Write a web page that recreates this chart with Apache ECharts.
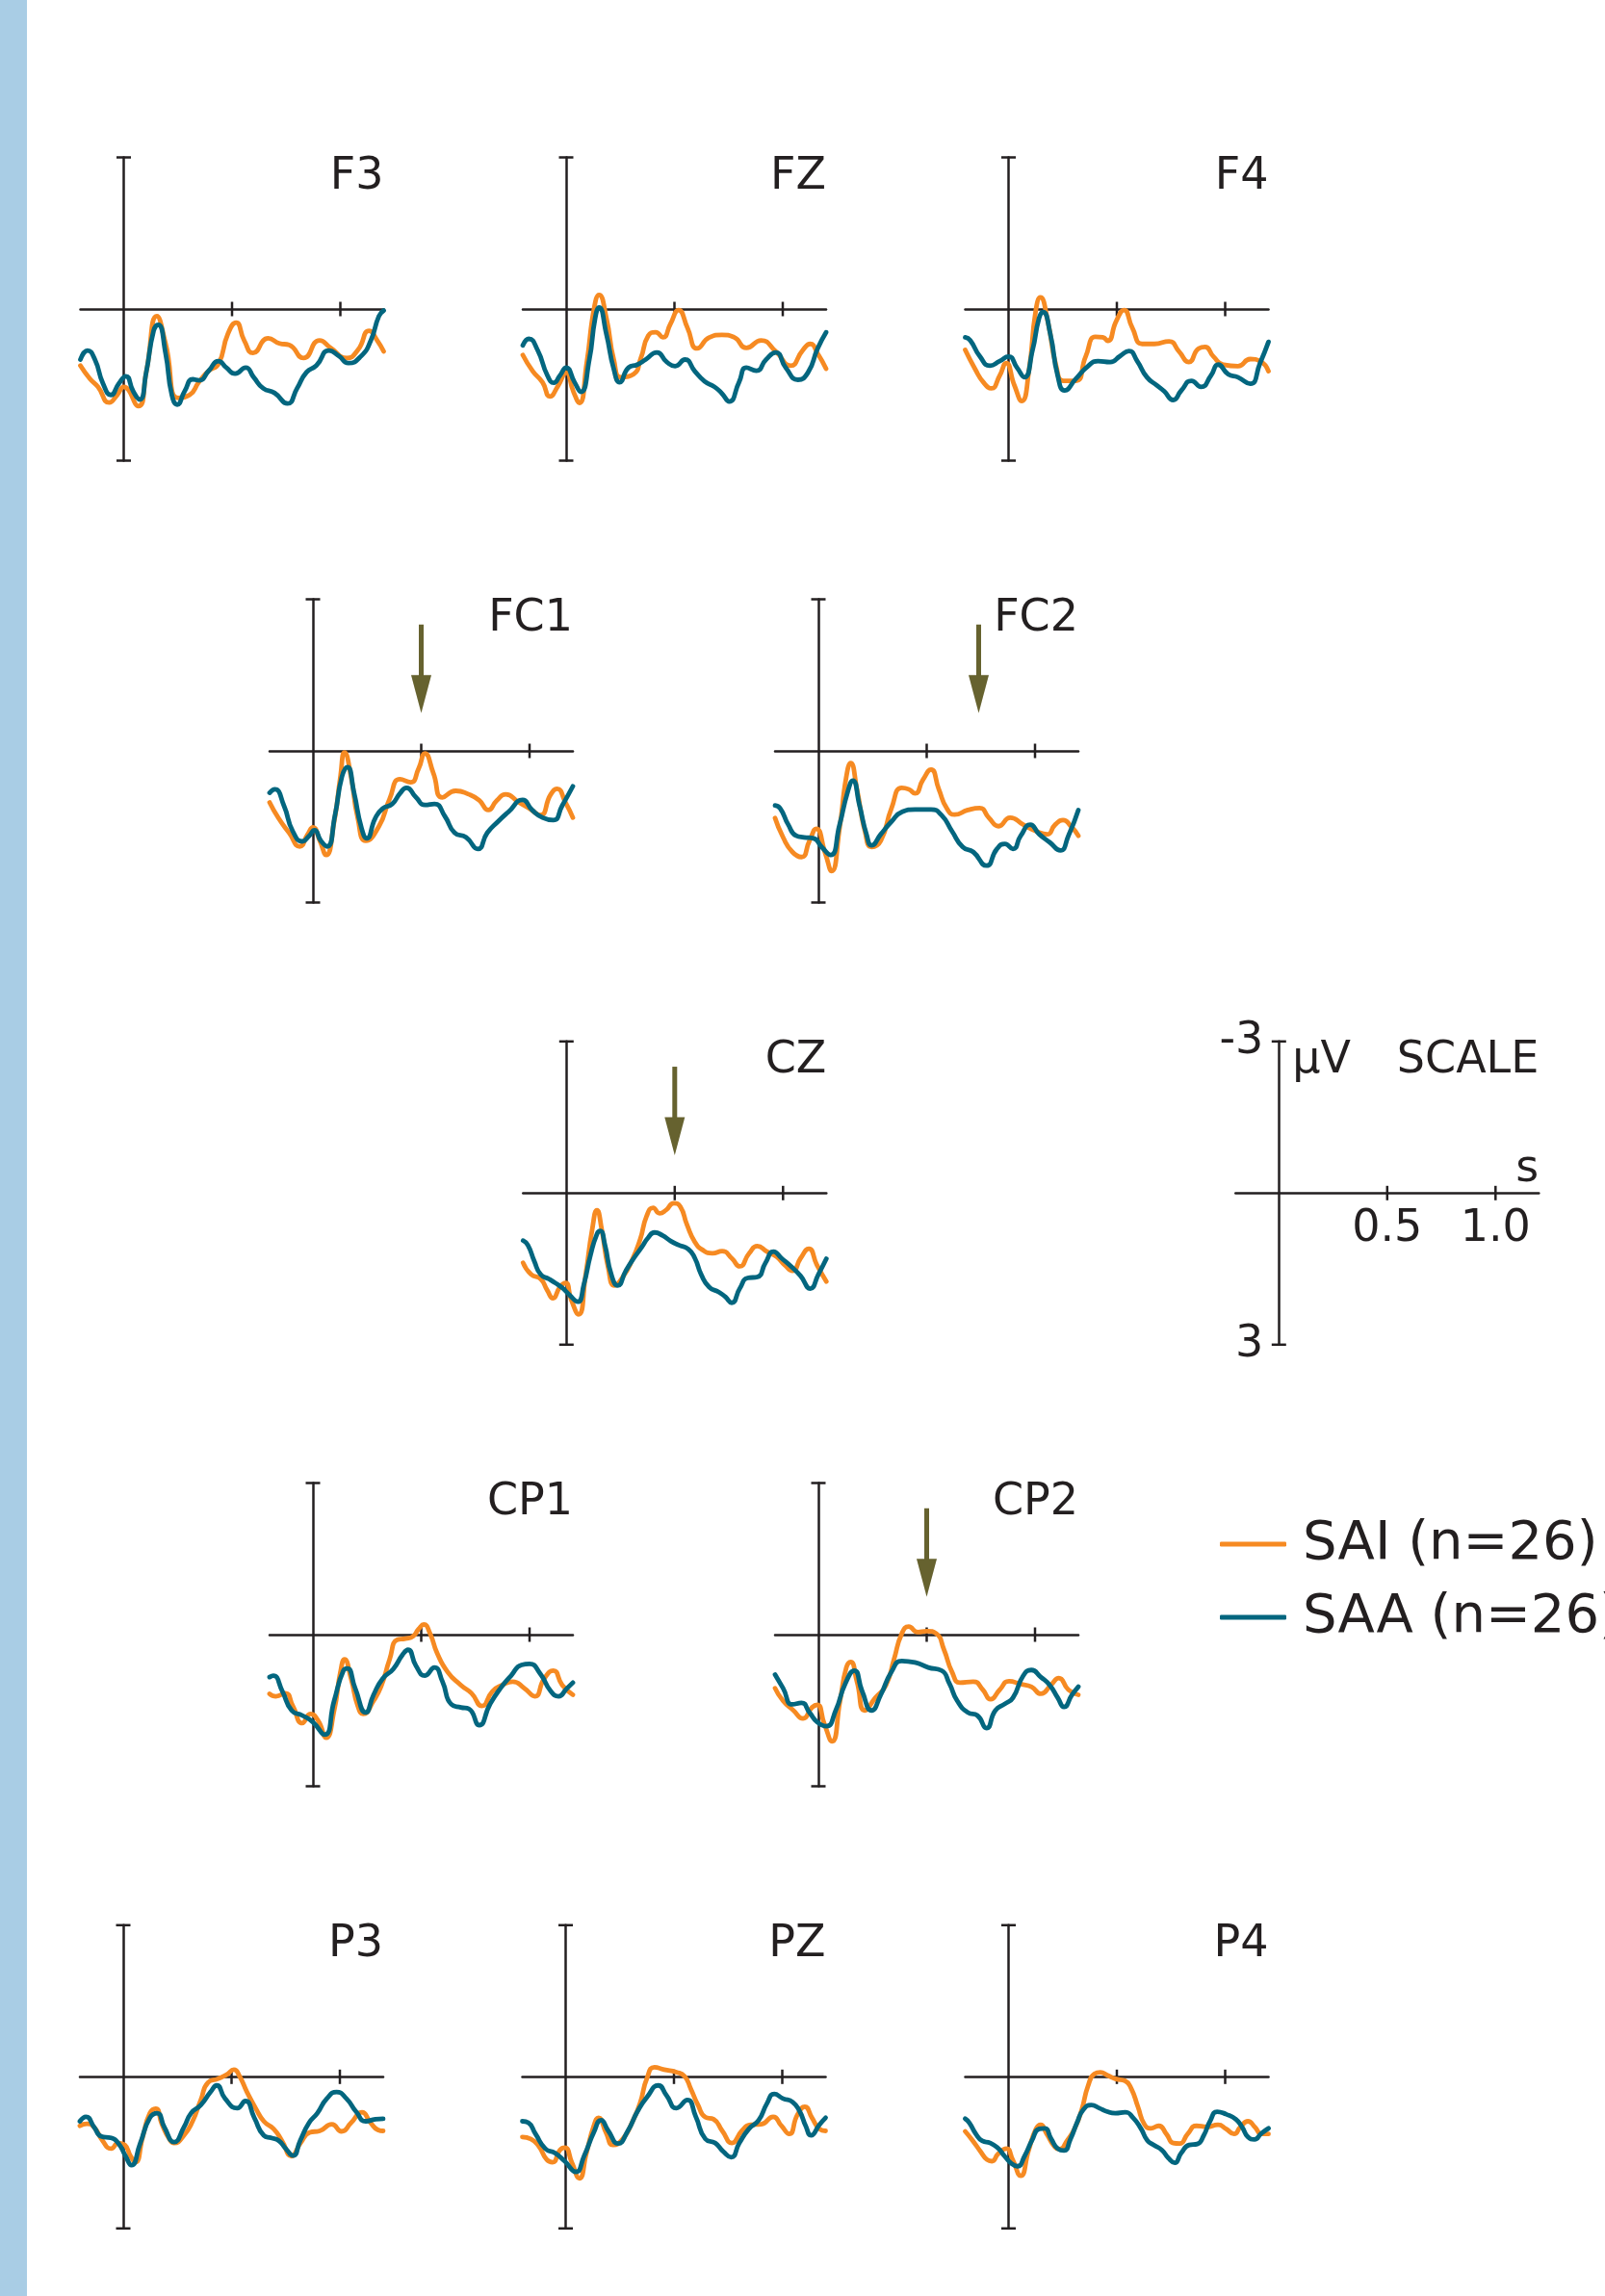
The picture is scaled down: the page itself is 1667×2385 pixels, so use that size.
<!DOCTYPE html>
<html><head><meta charset="utf-8">
<script src="https://cdn.jsdelivr.net/npm/echarts@6/dist/echarts.min.js"></script>
<style>html,body{margin:0;padding:0;background:#fff}#chart{width:1667px;height:2385px}</style>
</head><body><div id="chart"></div>
<script>
// ---- Data: ERP waveforms, [time (s), amplitude (µV)], negative up ----
const channels = ['F3','FZ','F4','FC1','FC2','CZ','CP1','CP2','P3','PZ','P4'];
const seriesNames = ['SAI (n=26)', 'SAA (n=26)'];

const F3_SAI = [[-0.2,1.12],[-0.156,1.38],[-0.119,1.54],[-0.067,1.85],[-0.03,1.70],[0,1.54],[0.067,1.92],[0.104,1.25],[0.153,0.14],[0.193,0.68],[0.252,1.76],[0.304,1.70],[0.348,1.44],[0.393,1.22],[0.437,1.09],[0.481,0.49],[0.519,0.27],[0.556,0.62],[0.597,0.87],[0.667,0.58],[0.719,0.68],[0.763,0.71],[0.830,0.97],[0.904,0.62],[0.956,0.77],[1.03,0.97],[1.081,0.81],[1.133,0.43],[1.170,0.62],[1.2,0.84]];
const F3_SAA = [[-0.2,1.0],[-0.167,0.82],[-0.133,1.0],[-0.096,1.47],[-0.059,1.70],[-0.022,1.47],[0.01,1.33],[0.044,1.63],[0.074,1.79],[0.104,1.25],[0.138,0.43],[0.159,0.31],[0.193,0.87],[0.222,1.70],[0.247,1.89],[0.281,1.63],[0.319,1.39],[0.348,1.41],[0.393,1.22],[0.437,1.03],[0.474,1.16],[0.514,1.28],[0.563,1.16],[0.6,1.35],[0.644,1.57],[0.696,1.66],[0.756,1.87],[0.8,1.57],[0.844,1.25],[0.889,1.12],[0.948,0.82],[0.993,0.93],[1.037,1.07],[1.096,0.93],[1.141,0.62],[1.178,0.14],[1.2,0.03]];
const FZ_SAI = [[-0.2,0.91],[-0.154,1.23],[-0.109,1.45],[-0.075,1.73],[-0.036,1.51],[0,1.26],[0.034,1.64],[0.061,1.86],[0.095,1.07],[0.129,-0.01],[0.152,-0.28],[0.186,0.18],[0.22,1.0],[0.254,1.35],[0.311,1.29],[0.345,0.97],[0.379,0.53],[0.413,0.46],[0.447,0.56],[0.481,0.30],[0.519,0.02],[0.56,0.37],[0.605,0.78],[0.662,0.56],[0.719,0.51],[0.776,0.56],[0.832,0.77],[0.9,0.62],[0.968,0.84],[1.036,1.12],[1.093,0.81],[1.127,0.69],[1.161,0.88],[1.2,1.18]];
const FZ_SAA = [[-0.2,0.72],[-0.172,0.59],[-0.132,0.81],[-0.086,1.32],[-0.057,1.46],[-0.029,1.32],[0,1.16],[0.039,1.45],[0.068,1.64],[0.107,1.0],[0.134,0.18],[0.152,-0.03],[0.186,0.50],[0.22,1.19],[0.247,1.45],[0.288,1.16],[0.329,1.10],[0.367,1.0],[0.419,0.86],[0.465,1.05],[0.503,1.13],[0.549,1.0],[0.594,1.23],[0.639,1.43],[0.685,1.54],[0.719,1.67],[0.753,1.83],[0.798,1.45],[0.832,1.16],[0.878,1.22],[0.923,1.0],[0.968,0.86],[1.014,1.16],[1.07,1.40],[1.116,1.26],[1.161,0.78],[1.2,0.46]];
const F4_SAI = [[-0.2,0.81],[-0.154,1.19],[-0.116,1.45],[-0.079,1.57],[-0.041,1.32],[-0.011,1.07],[0.027,1.51],[0.061,1.82],[0.095,1.19],[0.125,0.05],[0.147,-0.23],[0.181,0.24],[0.22,1.13],[0.254,1.42],[0.311,1.42],[0.356,0.94],[0.401,0.55],[0.435,0.56],[0.458,0.63],[0.497,0.24],[0.533,0.02],[0.571,0.37],[0.617,0.69],[0.673,0.69],[0.741,0.64],[0.787,0.84],[0.832,1.05],[0.878,0.78],[0.907,0.75],[0.946,0.94],[0.991,1.10],[1.059,1.13],[1.116,0.99],[1.161,1.03],[1.2,1.23]];
const F4_SAA = [[-0.2,0.56],[-0.177,0.62],[-0.132,0.94],[-0.086,1.12],[-0.041,1.03],[0,0.94],[0.039,1.16],[0.073,1.35],[0.111,0.81],[0.141,0.18],[0.159,0.06],[0.193,0.50],[0.227,1.32],[0.259,1.61],[0.311,1.38],[0.367,1.13],[0.413,1.03],[0.469,1.05],[0.515,0.93],[0.556,0.83],[0.594,1.03],[0.639,1.35],[0.685,1.51],[0.719,1.63],[0.76,1.80],[0.798,1.61],[0.844,1.42],[0.889,1.54],[0.934,1.32],[0.968,1.10],[1.014,1.29],[1.059,1.35],[1.116,1.48],[1.161,1.07],[1.2,0.65]];
const FC1_SAI = [[-0.2,1.02],[-0.159,1.33],[-0.11,1.62],[-0.061,1.89],[-0.024,1.65],[0,1.51],[0.032,1.78],[0.061,2.06],[0.098,1.40],[0.127,0.51],[0.146,0.03],[0.176,0.51],[0.207,1.33],[0.244,1.78],[0.305,1.49],[0.354,0.95],[0.402,0.56],[0.451,0.62],[0.488,0.35],[0.517,0.05],[0.556,0.44],[0.598,0.92],[0.659,0.79],[0.72,0.86],[0.768,0.98],[0.81,1.17],[0.849,0.98],[0.89,0.86],[0.951,1.02],[1.0,1.14],[1.049,1.27],[1.098,0.86],[1.127,0.75],[1.166,1.02],[1.2,1.32]];
const FC1_SAA = [[-0.2,0.83],[-0.176,0.76],[-0.134,1.08],[-0.093,1.59],[-0.049,1.79],[-0.017,1.68],[0.007,1.57],[0.037,1.78],[0.066,1.89],[0.102,1.27],[0.134,0.51],[0.159,0.32],[0.19,0.83],[0.224,1.52],[0.249,1.73],[0.288,1.33],[0.322,1.14],[0.366,1.05],[0.402,0.84],[0.432,0.73],[0.476,0.92],[0.517,1.07],[0.561,1.05],[0.61,1.30],[0.654,1.62],[0.707,1.71],[0.761,1.94],[0.805,1.62],[0.854,1.40],[0.902,1.21],[0.968,0.97],[1.012,1.17],[1.061,1.32],[1.11,1.37],[1.151,1.08],[1.2,0.70]];
const FC2_SAI = [[-0.2,1.33],[-0.163,1.71],[-0.12,2.0],[-0.078,2.10],[-0.041,1.78],[-0.01,1.54],[0.032,2.03],[0.061,2.38],[0.098,1.52],[0.129,0.51],[0.149,0.24],[0.178,0.76],[0.215,1.59],[0.246,1.90],[0.288,1.78],[0.337,1.14],[0.385,0.73],[0.417,0.76],[0.446,0.84],[0.483,0.57],[0.52,0.37],[0.556,0.76],[0.593,1.14],[0.629,1.26],[0.69,1.17],[0.744,1.13],[0.788,1.33],[0.832,1.49],[0.885,1.32],[0.946,1.46],[1.007,1.59],[1.056,1.65],[1.093,1.46],[1.129,1.37],[1.166,1.49],[1.2,1.68]];
const FC2_SAA = [[-0.2,1.08],[-0.176,1.14],[-0.139,1.46],[-0.102,1.68],[-0.066,1.71],[-0.022,1.73],[0.015,1.90],[0.056,2.06],[0.098,1.46],[0.134,0.83],[0.159,0.59],[0.19,1.08],[0.222,1.65],[0.246,1.87],[0.288,1.65],[0.337,1.40],[0.385,1.21],[0.446,1.16],[0.52,1.16],[0.568,1.27],[0.617,1.59],[0.666,1.90],[0.715,2.0],[0.776,2.27],[0.824,1.94],[0.861,1.84],[0.898,1.94],[0.934,1.68],[0.978,1.46],[1.02,1.65],[1.068,1.81],[1.117,1.97],[1.154,1.68],[1.2,1.17]];
const CZ_SAI = [[-0.2,1.38],[-0.163,1.61],[-0.119,1.70],[-0.089,1.92],[-0.062,2.08],[-0.03,1.86],[-0.004,1.78],[0.022,2.11],[0.056,2.40],[0.089,1.61],[0.119,0.72],[0.141,0.34],[0.163,0.72],[0.193,1.48],[0.222,1.83],[0.259,1.67],[0.304,1.32],[0.341,0.91],[0.37,0.46],[0.4,0.29],[0.43,0.40],[0.459,0.34],[0.496,0.20],[0.526,0.27],[0.556,0.62],[0.593,0.97],[0.63,1.13],[0.674,1.19],[0.719,1.15],[0.763,1.29],[0.8,1.45],[0.844,1.19],[0.881,1.05],[0.926,1.16],[0.97,1.26],[1.007,1.42],[1.044,1.54],[1.081,1.29],[1.119,1.10],[1.156,1.42],[1.2,1.75]];
const CZ_SAA = [[-0.2,0.94],[-0.178,1.03],[-0.148,1.35],[-0.119,1.61],[-0.081,1.70],[-0.044,1.80],[-0.015,1.89],[0.015,2.02],[0.052,2.15],[0.081,1.80],[0.111,1.23],[0.141,0.81],[0.156,0.75],[0.178,1.03],[0.207,1.61],[0.237,1.83],[0.274,1.54],[0.311,1.29],[0.348,1.07],[0.378,0.88],[0.407,0.78],[0.444,0.84],[0.481,0.95],[0.519,1.03],[0.563,1.11],[0.593,1.29],[0.622,1.61],[0.659,1.86],[0.704,1.96],[0.733,2.05],[0.763,2.17],[0.8,1.89],[0.837,1.68],[0.881,1.66],[0.919,1.38],[0.956,1.16],[0.993,1.29],[1.037,1.45],[1.081,1.64],[1.126,1.89],[1.163,1.61],[1.2,1.30]];
const CP1_SAI = [[-0.2,1.17],[-0.171,1.22],[-0.127,1.16],[-0.093,1.41],[-0.049,1.75],[-0.012,1.57],[0.024,1.70],[0.061,2.04],[0.098,1.50],[0.127,0.74],[0.146,0.49],[0.176,0.87],[0.207,1.41],[0.232,1.57],[0.28,1.31],[0.317,1.0],[0.354,0.49],[0.39,0.10],[0.427,0.08],[0.463,0.03],[0.488,-0.11],[0.512,-0.20],[0.541,-0.02],[0.573,0.36],[0.622,0.74],[0.683,1.0],[0.732,1.16],[0.78,1.41],[0.829,1.12],[0.873,1.0],[0.922,0.93],[0.976,1.06],[1.024,1.22],[1.068,0.87],[1.11,0.71],[1.151,1.0],[1.2,1.19]];
const CP1_SAA = [[-0.2,0.84],[-0.183,0.81],[-0.141,1.12],[-0.098,1.50],[-0.049,1.60],[0,1.73],[0.054,1.98],[0.098,1.31],[0.141,0.71],[0.159,0.67],[0.195,1.06],[0.244,1.54],[0.28,1.19],[0.322,0.87],[0.371,0.68],[0.415,0.39],[0.439,0.30],[0.476,0.62],[0.517,0.81],[0.561,0.65],[0.598,0.93],[0.639,1.38],[0.683,1.44],[0.72,1.47],[0.768,1.79],[0.817,1.38],[0.866,1.06],[0.915,0.81],[0.963,0.60],[1.0,0.58],[1.049,0.77],[1.098,1.12],[1.134,1.22],[1.171,1.07],[1.2,0.95]];
const CP2_SAI = [[-0.2,1.06],[-0.163,1.31],[-0.115,1.50],[-0.071,1.66],[-0.029,1.44],[-0.005,1.39],[0.027,1.76],[0.063,2.11],[0.1,1.31],[0.129,0.65],[0.149,0.54],[0.178,0.93],[0.215,1.50],[0.263,1.25],[0.312,1.0],[0.349,0.49],[0.385,-0.02],[0.417,-0.16],[0.459,-0.05],[0.5,-0.07],[0.544,-0.02],[0.58,0.30],[0.617,0.74],[0.654,0.95],[0.715,0.93],[0.759,1.09],[0.795,1.28],[0.837,1.09],[0.88,0.92],[0.934,0.98],[0.983,1.03],[1.027,1.17],[1.073,1.0],[1.11,0.86],[1.154,1.09],[1.2,1.19]];
const CP2_SAA = [[-0.2,0.79],[-0.163,1.06],[-0.12,1.38],[-0.078,1.35],[-0.041,1.54],[-0.005,1.73],[0.037,1.81],[0.08,1.50],[0.124,0.97],[0.166,0.71],[0.202,1.12],[0.246,1.50],[0.288,1.19],[0.337,0.74],[0.385,0.52],[0.446,0.55],[0.507,0.65],[0.568,0.71],[0.605,0.97],[0.641,1.31],[0.69,1.54],[0.734,1.60],[0.776,1.85],[0.817,1.50],[0.861,1.37],[0.898,1.25],[0.946,0.81],[0.983,0.70],[1.027,0.84],[1.068,1.0],[1.105,1.25],[1.134,1.43],[1.171,1.19],[1.2,1.03]];
const P3_SAI = [[-0.2,0.97],[-0.168,0.93],[-0.134,1.0],[-0.096,1.26],[-0.056,1.42],[-0.022,1.31],[0.007,1.35],[0.034,1.57],[0.056,1.69],[0.09,1.19],[0.123,0.72],[0.15,0.63],[0.179,0.94],[0.213,1.23],[0.235,1.31],[0.28,1.16],[0.32,0.88],[0.358,0.46],[0.392,0.11],[0.437,0.04],[0.477,-0.04],[0.511,-0.14],[0.537,-0.01],[0.571,0.30],[0.611,0.62],[0.649,0.88],[0.694,1.03],[0.732,1.26],[0.777,1.57],[0.817,1.32],[0.862,1.10],[0.907,1.07],[0.963,0.94],[1.008,1.08],[1.052,0.91],[1.102,0.70],[1.142,0.91],[1.176,1.05],[1.2,1.07]];
const P3_SAA = [[-0.2,0.88],[-0.172,0.79],[-0.134,1.0],[-0.101,1.18],[-0.056,1.21],[-0.022,1.32],[0.011,1.57],[0.038,1.75],[0.078,1.32],[0.123,0.81],[0.157,0.72],[0.19,1.0],[0.235,1.29],[0.28,1.0],[0.313,0.72],[0.358,0.56],[0.403,0.30],[0.432,0.17],[0.47,0.43],[0.526,0.62],[0.564,0.48],[0.605,0.81],[0.649,1.16],[0.683,1.21],[0.717,1.26],[0.75,1.42],[0.784,1.56],[0.817,1.26],[0.858,0.91],[0.896,0.72],[0.94,0.43],[0.985,0.30],[1.03,0.43],[1.075,0.69],[1.12,0.88],[1.164,0.84],[1.2,0.83]];
const PZ_SAI = [[-0.2,1.19],[-0.161,1.23],[-0.123,1.38],[-0.087,1.64],[-0.06,1.69],[-0.027,1.45],[-0.004,1.40],[0.029,1.70],[0.063,2.01],[0.096,1.51],[0.13,0.97],[0.152,0.81],[0.186,1.10],[0.219,1.35],[0.264,1.23],[0.309,0.88],[0.343,0.53],[0.376,0.02],[0.41,-0.19],[0.455,-0.14],[0.511,-0.09],[0.549,-0.01],[0.578,0.24],[0.611,0.56],[0.645,0.80],[0.683,0.84],[0.723,1.07],[0.768,1.31],[0.813,1.07],[0.853,0.95],[0.902,0.94],[0.958,0.79],[0.996,0.97],[1.032,1.13],[1.07,0.75],[1.104,0.59],[1.137,0.81],[1.171,1.03],[1.2,1.07]];
const PZ_SAA = [[-0.2,0.88],[-0.172,0.91],[-0.139,1.13],[-0.094,1.42],[-0.049,1.51],[-0.004,1.67],[0.047,1.88],[0.085,1.57],[0.13,1.10],[0.163,0.86],[0.197,1.07],[0.242,1.32],[0.287,1.07],[0.331,0.69],[0.376,0.40],[0.428,0.17],[0.466,0.37],[0.511,0.62],[0.562,0.46],[0.6,0.78],[0.645,1.23],[0.69,1.31],[0.728,1.48],[0.764,1.59],[0.802,1.31],[0.846,1.03],[0.891,0.86],[0.929,0.53],[0.963,0.34],[1.003,0.43],[1.048,0.50],[1.081,0.69],[1.108,0.97],[1.133,1.16],[1.171,0.95],[1.2,0.81]];
const P4_SAI = [[-0.2,1.08],[-0.166,1.26],[-0.129,1.48],[-0.099,1.64],[-0.077,1.67],[-0.047,1.52],[-0.01,1.42],[0.019,1.64],[0.056,1.96],[0.093,1.45],[0.127,1.03],[0.148,0.95],[0.175,1.12],[0.212,1.38],[0.234,1.43],[0.271,1.26],[0.308,1.0],[0.338,0.65],[0.367,0.18],[0.397,-0.06],[0.424,-0.09],[0.456,-0.03],[0.493,0.04],[0.538,0.08],[0.567,0.24],[0.597,0.59],[0.627,0.94],[0.656,1.02],[0.693,0.97],[0.73,1.14],[0.76,1.31],[0.79,1.32],[0.827,1.13],[0.868,0.97],[0.916,0.99],[0.967,0.95],[1.004,1.03],[1.041,1.13],[1.071,0.99],[1.105,0.88],[1.138,1.0],[1.167,1.13],[1.2,1.13]];
const P4_SAA = [[-0.2,0.83],[-0.181,0.91],[-0.151,1.13],[-0.121,1.27],[-0.084,1.31],[-0.047,1.42],[-0.018,1.57],[0.012,1.71],[0.041,1.77],[0.074,1.57],[0.108,1.26],[0.142,1.03],[0.167,1.02],[0.197,1.23],[0.227,1.42],[0.256,1.46],[0.286,1.23],[0.316,0.91],[0.345,0.65],[0.382,0.56],[0.419,0.62],[0.456,0.69],[0.493,0.72],[0.538,0.70],[0.575,0.81],[0.612,1.03],[0.641,1.26],[0.671,1.35],[0.708,1.45],[0.738,1.61],[0.767,1.70],[0.797,1.51],[0.834,1.35],[0.871,1.33],[0.901,1.16],[0.93,0.88],[0.963,0.69],[1.004,0.74],[1.049,0.84],[1.079,1.0],[1.105,1.19],[1.135,1.24],[1.167,1.12],[1.2,1.02]];

const saiData = [F3_SAI, FZ_SAI, F4_SAI, FC1_SAI, FC2_SAI, CZ_SAI, CP1_SAI, CP2_SAI, P3_SAI, PZ_SAI, P4_SAI];
const saaData = [F3_SAA, FZ_SAA, F4_SAA, FC1_SAA, FC2_SAA, CZ_SAA, CP1_SAA, CP2_SAA, P3_SAA, PZ_SAA, P4_SAA];

// arrows marking effects (time in s; shaft top, head base, tip in µV)
const arrowChannels = ['FC1', 'FC2', 'CZ', 'CP2'];
const arrowTimes = [0.5, 0.74, 0.5, 0.5];
const arrowSpan = [-2.5, -1.5, -0.75];

// axes / ticks
const timeRange = [-0.2, 1.2];
const voltRange = [-3, 3];
const timeTicks = [0.5, 1.0];
const voltCaps = [-3, 3];
const scaleTimeLabels = [0.5, 1.0];
const scaleVoltLabels = [-3, 3];

// ---- Layout (pixel origin of each panel: x of t=0, y of 0 µV) ----
const panelX0 = [128.5, 588, 1047.5, 325, 850, 588.3, 325, 850, 128, 587.5, 1047.5];
const panelY0 = [321, 321, 321, 780, 780, 1239.3, 1698, 1698, 2157.3, 2157.3, 2157.3];
const scaleX0 = 1328.3, scaleY0 = 1239.3;
const pxPerSec = 225, pxPerUV = 52.5;

const ORANGE = '#f68a22', TEAL = '#03667f', INK = '#231f20', OLIVE = '#66622f';
const FONT = '"DejaVu Sans", Verdana, sans-serif';

const chart = echarts.init(document.getElementById('chart'), null, {renderer: 'canvas'});

const grids = [], xAxes = [], yAxes = [], series = [], graphics = [];

function addPanel(x0, y0, isScale) {
  const gi = grids.length;
  const left = x0 + timeRange[0] * pxPerSec;
  const top = y0 + voltRange[0] * pxPerUV;
  const height = (voltRange[1] - voltRange[0]) * pxPerUV;
  grids.push({
    show: false, left, top,
    width: (timeRange[1] - timeRange[0]) * pxPerSec, height,
    containLabel: false, outerBoundsMode: 'none'
  });
  // axes are shifted from the grid edge onto the 0 s / 0 µV lines
  xAxes.push({
    type: 'value', gridIndex: gi, min: timeRange[0], max: timeRange[1],
    position: 'bottom', offset: -(top + height - y0),
    axisLine: {show: true, onZero: false, lineStyle: {color: INK, width: 2.5}},
    axisTick: {show: false}, splitLine: {show: false},
    axisLabel: isScale ? {
      show: true, customValues: scaleTimeLabels, formatter: v => Number(v).toFixed(1),
      fontSize: 46, fontFamily: FONT, color: INK, margin: 15
    } : {show: false}
  });
  yAxes.push({
    type: 'value', gridIndex: gi, min: voltRange[0], max: voltRange[1], inverse: true,
    position: 'left', offset: -(x0 - left),
    axisLine: {show: true, onZero: false, lineStyle: {color: INK, width: 2.5}},
    axisTick: {show: false}, splitLine: {show: false},
    axisLabel: isScale ? {
      show: true, customValues: scaleVoltLabels, formatter: v => String(v),
      fontSize: 46, fontFamily: FONT, color: INK, margin: 16
    } : {show: false}
  });
  // tick marks crossing the time axis and end caps of the voltage axis
  const tickData = timeTicks.map(t => [t, 0, 0]).concat(voltCaps.map(v => [0, v, 1]));
  series.push({
    type: 'custom', xAxisIndex: gi, yAxisIndex: gi, coordinateSystem: 'cartesian2d',
    data: tickData, encode: {x: 0, y: 1}, clip: false, silent: true, z: 2,
    renderItem: (params, api) => {
      const p = api.coord([api.value(0), api.value(1)]);
      const h = 7.5;
      const shape = api.value(2) === 0
        ? {x1: p[0], y1: p[1] - h, x2: p[0], y2: p[1] + h}
        : {x1: p[0] - h, y1: p[1], x2: p[0] + h, y2: p[1]};
      return {type: 'line', shape, style: {stroke: INK, lineWidth: 2.5}};
    }
  });
  return gi;
}

channels.forEach((ch, i) => {
  const gi = addPanel(panelX0[i], panelY0[i], false);
  [[saiData[i], ORANGE, seriesNames[0], 3], [saaData[i], TEAL, seriesNames[1], 4]].forEach(([d, c, n, z]) => {
    series.push({
      type: 'line', name: n, xAxisIndex: gi, yAxisIndex: gi, data: d,
      smooth: 0.55, showSymbol: false, symbol: 'none', clip: false, silent: true, z,
      lineStyle: {color: c, width: 4.8, cap: 'round', join: 'round'}, itemStyle: {color: c}
    });
  });
  const ai = arrowChannels.indexOf(ch);
  if (ai >= 0) {
    series.push({
      type: 'custom', xAxisIndex: gi, yAxisIndex: gi, coordinateSystem: 'cartesian2d',
      data: [[arrowTimes[ai], arrowSpan[0], arrowSpan[1], arrowSpan[2]]], encode: {x: 0, y: 1},
      clip: false, silent: true, z: 5,
      renderItem: (params, api) => {
        const t = api.value(0);
        const top = api.coord([t, api.value(1)]);
        const base = api.coord([t, api.value(2)]);
        const tip = api.coord([t, api.value(3)]);
        return {type: 'group', children: [
          {type: 'rect', shape: {x: top[0] - 2.5, y: top[1], width: 5, height: base[1] - top[1] + 1}, style: {fill: OLIVE}},
          {type: 'polygon', shape: {points: [[base[0] - 10.5, base[1]], [base[0] + 10.5, base[1]], [tip[0], tip[1]]]}, style: {fill: OLIVE}}
        ]};
      }
    });
  }
  graphics.push({
    type: 'text', silent: true,
    x: panelX0[i] + timeRange[1] * pxPerSec, y: panelY0[i] - 137,
    style: {text: ch, fill: INK, font: '46px ' + FONT, align: 'right', verticalAlign: 'middle'}
  });
});

// scale panel
addPanel(scaleX0, scaleY0, true);
graphics.push(
  {type: 'text', silent: true, x: scaleX0 + 14, y: scaleY0 - 137,
   style: {text: 'μV', fill: INK, font: '46px ' + FONT, align: 'left', verticalAlign: 'middle'}},
  {type: 'text', silent: true, x: scaleX0 + timeRange[1] * pxPerSec, y: scaleY0 - 137,
   style: {text: 'SCALE', fill: INK, font: '46px ' + FONT, align: 'right', verticalAlign: 'middle'}},
  {type: 'text', silent: true, x: scaleX0 + timeRange[1] * pxPerSec, y: scaleY0 - 24,
   style: {text: 's', fill: INK, font: '46px ' + FONT, align: 'right', verticalAlign: 'middle'}}
);

// left colour band
graphics.push({type: 'rect', silent: true, shape: {x: 0, y: 0, width: 28, height: 2385}, style: {fill: '#a9cde5'}});

chart.setOption({
  animation: false,
  backgroundColor: '#ffffff',
  grid: grids, xAxis: xAxes, yAxis: yAxes, series,
  legend: {
    data: seriesNames, orient: 'vertical', left: 1262, top: 1571,
    itemWidth: 69, itemHeight: 5, icon: 'roundRect', itemGap: 20, selectedMode: false,
    textStyle: {fontSize: 56, fontFamily: FONT, color: INK, lineHeight: 56, padding: [0, 0, 0, 12]}
  },
  graphic: graphics
});
</script></body></html>
